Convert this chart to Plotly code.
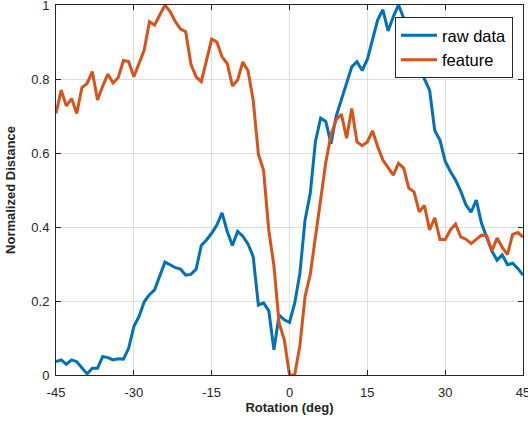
import plotly.graph_objects as go

rotation = list(range(-45, 46))

raw_data = [
    0.036, 0.041, 0.029, 0.041, 0.036, 0.018, 0.003, 0.018, 0.018, 0.050,
    0.047, 0.041, 0.044, 0.043, 0.072, 0.131, 0.158, 0.198, 0.217, 0.230,
    0.270, 0.305, 0.298, 0.290, 0.286, 0.270, 0.272, 0.286, 0.350, 0.365,
    0.383, 0.405, 0.438, 0.388, 0.350, 0.388, 0.375, 0.354, 0.320, 0.189,
    0.195, 0.174, 0.068, 0.162, 0.149, 0.142, 0.194, 0.275, 0.419, 0.491,
    0.631, 0.694, 0.685, 0.625, 0.700, 0.745, 0.790, 0.833, 0.847, 0.823,
    0.853, 0.910, 0.960, 0.987, 0.930, 0.968, 1.000, 0.965, 0.930, 0.890,
    0.850, 0.800, 0.770, 0.660, 0.635, 0.578, 0.550, 0.527, 0.497, 0.460,
    0.440, 0.473, 0.410, 0.370, 0.335, 0.310, 0.325, 0.298, 0.302, 0.288,
    0.270,
]

feature = [
    0.707, 0.770, 0.727, 0.747, 0.707, 0.777, 0.788, 0.820, 0.743, 0.781,
    0.813, 0.789, 0.804, 0.850, 0.847, 0.806, 0.842, 0.878, 0.955, 0.946,
    0.973, 1.000, 0.982, 0.955, 0.935, 0.928, 0.840, 0.806, 0.793, 0.851,
    0.908, 0.900, 0.860, 0.842, 0.781, 0.797, 0.846, 0.822, 0.743, 0.597,
    0.554, 0.392, 0.295, 0.140, 0.095, 0.000, 0.000, 0.080, 0.212, 0.272,
    0.370, 0.470, 0.575, 0.650, 0.690, 0.705, 0.640, 0.720, 0.630, 0.620,
    0.630, 0.660, 0.617, 0.581, 0.559, 0.540, 0.572, 0.559, 0.505, 0.495,
    0.441, 0.458, 0.392, 0.425, 0.366, 0.366, 0.392, 0.408, 0.373, 0.367,
    0.355, 0.366, 0.378, 0.376, 0.335, 0.370, 0.345, 0.325, 0.380, 0.385,
    0.373,
]

x_ticks = [-45, -30, -15, 0, 15, 30, 45]
y_ticks = [0, 0.2, 0.4, 0.6, 0.8, 1]
y_tick_text = ["0", "0.2", "0.4", "0.6", "0.8", "1"]

font_family = "Liberation Sans, Arial, Helvetica, sans-serif"
axis_color = "#262626"
grid_color = "#dfdfdf"

fig = go.Figure()
fig.add_trace(go.Scatter(x=rotation, y=raw_data, mode="lines", name="raw data",
                         line=dict(color="#0072BD", width=3)))
fig.add_trace(go.Scatter(x=rotation, y=feature, mode="lines", name="feature",
                         line=dict(color="#D95319", width=3)))

fig.update_layout(
    width=528, height=424,
    margin=dict(l=56, r=5, t=5, b=49, autoexpand=False),
    paper_bgcolor="white", plot_bgcolor="white",
    font=dict(family=font_family, size=13, color=axis_color),
    showlegend=True,
    legend=dict(
        x=0.9786, y=0.9676, xanchor="right", yanchor="top",
        bgcolor="white", bordercolor=axis_color, borderwidth=1,
        font=dict(size=16.5, color="#000000", family=font_family),
        tracegroupgap=0, itemwidth=36,
    ),
)

fig.update_xaxes(
    range=[-45, 45], tickvals=x_ticks, ticktext=[str(v) for v in x_ticks],
    showgrid=True, gridcolor=grid_color, gridwidth=1,
    showline=True, linecolor=axis_color, linewidth=1, mirror="ticks",
    ticks="inside", ticklen=5, tickcolor=axis_color, automargin=False,
    zeroline=False, ticklabeloverflow="allow", ticklabelstandoff=5,
    title=dict(text="<b>Rotation (deg)</b>", font=dict(size=13, color=axis_color), standoff=4),
    tickfont=dict(size=13, color=axis_color),
)
fig.update_yaxes(
    range=[0, 1], tickvals=y_ticks, ticktext=y_tick_text,
    showgrid=True, gridcolor=grid_color, gridwidth=1,
    showline=True, linecolor=axis_color, linewidth=1, mirror="ticks",
    ticks="inside", ticklen=5, tickcolor=axis_color, automargin=False,
    zeroline=False, ticklabeloverflow="allow", ticklabelstandoff=3,
    title=dict(text="<b>Normalized Distance</b>", font=dict(size=13, color=axis_color), standoff=12),
    tickfont=dict(size=13, color=axis_color),
)

fig.write_html("out.html")
